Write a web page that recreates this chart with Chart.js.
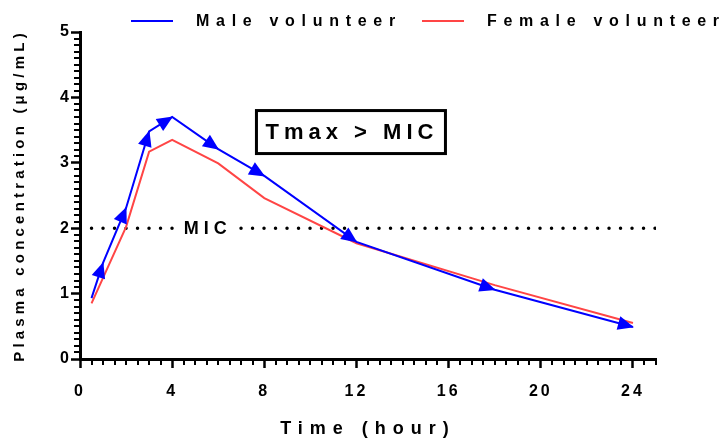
<!DOCTYPE html>
<html lang="en">
<head>
<meta charset="UTF-8">
<title>Plasma concentration - volunteers</title>
<script src="https://cdn.jsdelivr.net/npm/chart.js"></script>
<style>
  body { margin: 0; background: #fff; }
  #chart { display: block; }
</style>
</head>
<body>
<canvas id="chart" width="721" height="438"></canvas>
<script>
// data
const hours = [0.5, 1, 2, 3, 4, 6, 8, 12, 18, 24];
const maleConc = [0.93, 1.47, 2.31, 3.48, 3.70, 3.21, 2.80, 1.79, 1.06, 0.49];
const femaleConc = [0.85, 1.24, 2.02, 3.17, 3.35, 2.99, 2.46, 1.77, 1.13, 0.55];
const micLevel = 2;
const micRange = [0.5, 25];
const xTicks = [0, 4, 8, 12, 16, 20, 24];
const yTicks = [0, 1, 2, 3, 4, 5];

const FONT = '"Liberation Sans", Arial, sans-serif';
const BLUE = '#0000ff';
const RED = '#ff4545';
// letter spacing of the axis titles (the figure uses wide tracking)
const titleSpacing = { x: '7px', y: '4.2px' };
const tickSpacing = '3px';

function pairs(xs, ys) {
    return xs.map((x, i) => ({ x: x, y: ys[i] }));
}

// arrows, minor ticks, MIC label, Tmax box and legend
const decorations = {
    id: 'decorations',
    beforeDraw(chart) {
        chart.ctx.letterSpacing = tickSpacing;
        Object.keys(titleSpacing).forEach(id => {
            const s = chart.scales[id];
            if (s._spaced) return;
            const drawTitle = s.drawTitle;
            s.drawTitle = function () {
                this.ctx.letterSpacing = titleSpacing[id];
                drawTitle.call(this);
                this.ctx.letterSpacing = tickSpacing;
            };
            s._spaced = true;
        });
    },
    afterDatasetsDraw(chart) {
        const ctx = chart.ctx;
        const xs = chart.scales.x, ys = chart.scales.y;

        // arrow heads on the male curve, tip on each point
        const meta = chart.getDatasetMeta(0);
        ctx.save();
        ctx.fillStyle = BLUE;
        for (let i = 1; i < meta.data.length; i++) {
            const a = meta.data[i - 1], b = meta.data[i];
            const ang = Math.atan2(b.y - a.y, b.x - a.x);
            ctx.save();
            ctx.translate(b.x, b.y);
            ctx.rotate(ang);
            ctx.beginPath();
            ctx.moveTo(1, 0);
            ctx.lineTo(-15, -7);
            ctx.lineTo(-15, 7);
            ctx.closePath();
            ctx.fill();
            ctx.restore();
        }
        ctx.restore();

        // MIC label over the dotted line
        const mx = xs.getPixelForValue(5.5), my = ys.getPixelForValue(micLevel);
        ctx.save();
        ctx.fillStyle = '#fff';
        ctx.fillRect(mx - 28, my - 9, 56, 18);
        ctx.fillStyle = '#000';
        ctx.font = 'bold 18px ' + FONT;
        ctx.letterSpacing = '5px';
        ctx.textAlign = 'center';
        ctx.textBaseline = 'middle';
        ctx.fillText('MIC', mx + 1, my + 1);
        ctx.restore();

        // Tmax > MIC box
        const bx = xs.getPixelForValue(11.76), by = ys.getPixelForValue(3.47);
        ctx.save();
        ctx.fillStyle = '#fff';
        ctx.fillRect(bx - 96, by - 23, 192, 46);
        ctx.strokeStyle = '#000';
        ctx.lineWidth = 3;
        ctx.strokeRect(bx - 94.5, by - 21.5, 189, 43);
        ctx.fillStyle = '#000';
        ctx.font = 'bold 22px ' + FONT;
        ctx.letterSpacing = '5px';
        ctx.textAlign = 'center';
        ctx.textBaseline = 'middle';
        ctx.fillText('Tmax > MIC', bx + 1, by + 1);
        ctx.restore();
    },
    afterDraw(chart) {
        const ctx = chart.ctx;
        const xs = chart.scales.x, ys = chart.scales.y;
        const area = chart.chartArea;

        // minor ticks
        ctx.save();
        ctx.letterSpacing = '0px';
        ctx.strokeStyle = '#000';
        ctx.lineWidth = 2;
        ctx.beginPath();
        for (let i = 0; i <= 50; i++) {
            const v = i / 2;
            if (v % 4 === 0) continue;
            const px = Math.round(xs.getPixelForValue(v));
            ctx.moveTo(px, area.bottom);
            ctx.lineTo(px, area.bottom + 6);
        }
        for (let i = 0; i <= 50; i++) {
            if (i % 10 === 0) continue;
            const py = Math.round(ys.getPixelForValue(i / 10));
            ctx.moveTo(area.left - 6, py);
            ctx.lineTo(area.left, py);
        }
        ctx.stroke();
        ctx.restore();

        // legend
        const items = [
            { ds: chart.data.datasets[0], x: 131 },
            { ds: chart.data.datasets[1], x: 422 }
        ];
        ctx.save();
        ctx.font = 'bold 16px ' + FONT;
        ctx.letterSpacing = '6.7px';
        ctx.textBaseline = 'middle';
        ctx.fillStyle = '#000';
        items.forEach(it => {
            ctx.strokeStyle = it.ds.borderColor;
            ctx.lineWidth = 2;
            ctx.beginPath();
            ctx.moveTo(it.x, 21);
            ctx.lineTo(it.x + 42, 21);
            ctx.stroke();
            ctx.fillText(it.ds.label, it.x + 65, 22);
        });
        ctx.restore();
    }
};

new Chart(document.getElementById('chart'), {
    type: 'line',
    data: {
        datasets: [{
            label: 'Male volunteer',
            data: pairs(hours, maleConc),
            borderColor: BLUE,
            backgroundColor: BLUE,
            borderWidth: 2,
            pointRadius: 0,
            tension: 0
        }, {
            label: 'Female volunteer',
            data: pairs(hours, femaleConc),
            borderColor: RED,
            backgroundColor: RED,
            borderWidth: 2,
            pointRadius: 0,
            tension: 0
        }, {
            label: 'MIC',
            data: micRange.map(x => ({ x: x, y: micLevel })),
            borderColor: '#000',
            borderWidth: 3.5,
            borderDash: [0, 11.5],
            borderCapStyle: 'round',
            pointRadius: 0
        }]
    },
    options: {
        responsive: false,
        animation: false,
        layout: { padding: { top: 32, right: 65, left: 0, bottom: 0 } },
        plugins: {
            legend: { display: false },
            tooltip: { enabled: false }
        },
        scales: {
            x: {
                type: 'linear',
                min: 0,
                max: 25,
                afterBuildTicks: s => { s.ticks = xTicks.map(v => ({ value: v })); },
                afterFit: s => { s.height = 79; },
                border: { display: true, color: '#000', width: 3 },
                grid: { drawOnChartArea: false, drawTicks: true, tickLength: 9, tickWidth: 2.5, tickColor: '#000' },
                ticks: { color: '#000', padding: 14, maxRotation: 0, font: { family: FONT, size: 16, weight: 'bold' } },
                title: {
                    display: true,
                    text: 'Time (hour)',
                    color: '#000',
                    padding: { top: 0, bottom: -2 },
                    font: { family: FONT, size: 18, weight: 'bold' }
                }
            },
            y: {
                min: 0,
                max: 5,
                afterBuildTicks: s => { s.ticks = yTicks.map(v => ({ value: v })); },
                afterFit: s => { s.width = 80; },
                border: { display: true, color: '#000', width: 3 },
                grid: { drawOnChartArea: false, drawTicks: true, tickLength: 9, tickWidth: 2.5, tickColor: '#000' },
                ticks: { color: '#000', padding: -1, font: { family: FONT, size: 16, weight: 'bold' } },
                title: {
                    display: true,
                    text: 'Plasma concentration (μg/mL)',
                    color: '#000',
                    padding: { top: 11, bottom: 0 },
                    font: { family: FONT, size: 15, weight: 'bold' }
                }
            }
        }
    },
    plugins: [decorations]
});
</script>
</body>
</html>
